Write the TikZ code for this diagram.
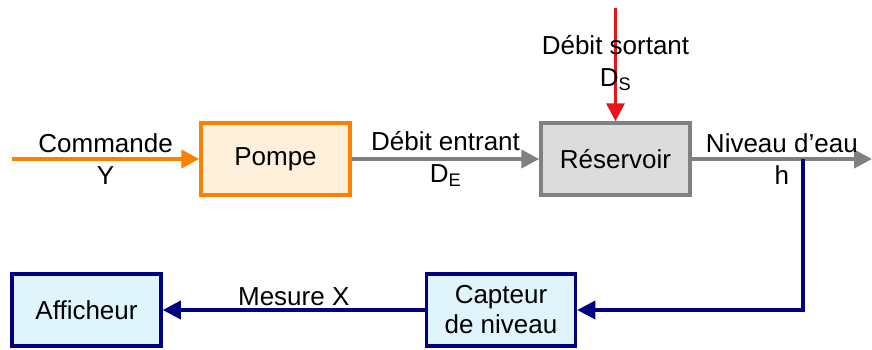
\documentclass[tikz,border=0pt]{standalone}
\usepackage{fontspec}
\setmainfont{Liberation Sans}
\usetikzlibrary{arrows.meta}

\definecolor{pumpline}{HTML}{FF8000}
\definecolor{pumpfill}{HTML}{FFF0DC}
\definecolor{tankline}{HTML}{808080}
\definecolor{tankfill}{HTML}{DCDCDC}
\definecolor{measline}{HTML}{000080}
\definecolor{measfill}{HTML}{E0F4FC}
\definecolor{outflow}{HTML}{E8141A}

\begin{document}
\begin{tikzpicture}[x=1pt, y=-1pt, font=\fontsize{26}{30}\selectfont,
	block/.style={line width=3.5pt, minimum width=149pt, minimum height=72pt, align=center},
	flow/.style={line width=4pt, -{Triangle[length=18pt, width=18pt]}},
	lbl/.style={align=center, inner sep=0pt, text=black}]
	\useasboundingbox (0,0) rectangle (872,349);
	% blocks
	\node[block, draw=pumpline, fill=pumpfill] (pompe) at (275.5,159) {Pompe};
	\node[block, draw=tankline, fill=tankfill] (reservoir) at (615.5,159) {Réservoir};
	\node[block, draw=measline, fill=measfill] (capteur) at (501,310) {Capteur\\de niveau};
	\node[block, draw=measline, fill=measfill] (afficheur) at (86.5,310) {Afficheur};
	% free ends
	\coordinate (cmdin) at (12,159);
	\coordinate (dsin) at (615.5,8);
	\coordinate (hout) at (872,159);
	\coordinate (tap) at (803,159);
	% flows
	\draw[flow, pumpline] (cmdin) -- (pompe.west)
		node[lbl, midway] (lcmd) {Commande\\[2pt]Y};
	\draw[flow, tankline] (pompe.east) -- (reservoir.west)
		node[lbl, midway] (lde) {Débit entrant\\[2pt]D\textsubscript{E}};
	\draw[flow, outflow, line width=3.5pt] (dsin) -- (reservoir.north);
	\node[lbl] (lds) at (615.5,63) {Débit sortant\\[2pt]D\textsubscript{S}};
	\draw[flow, tankline] (reservoir.east) -- (hout)
		node[lbl, midway] (lh) {Niveau d’eau\\[2pt]h};
	% measurement loop
	\draw[flow, measline, line width=3.5pt] (tap) |- (capteur.east);
	\draw[flow, measline, line width=3.5pt] (capteur.west) -- (afficheur.east)
		node[lbl, midway, above, inner sep=3pt] (lx) {Mesure X};
\end{tikzpicture}
\end{document}
